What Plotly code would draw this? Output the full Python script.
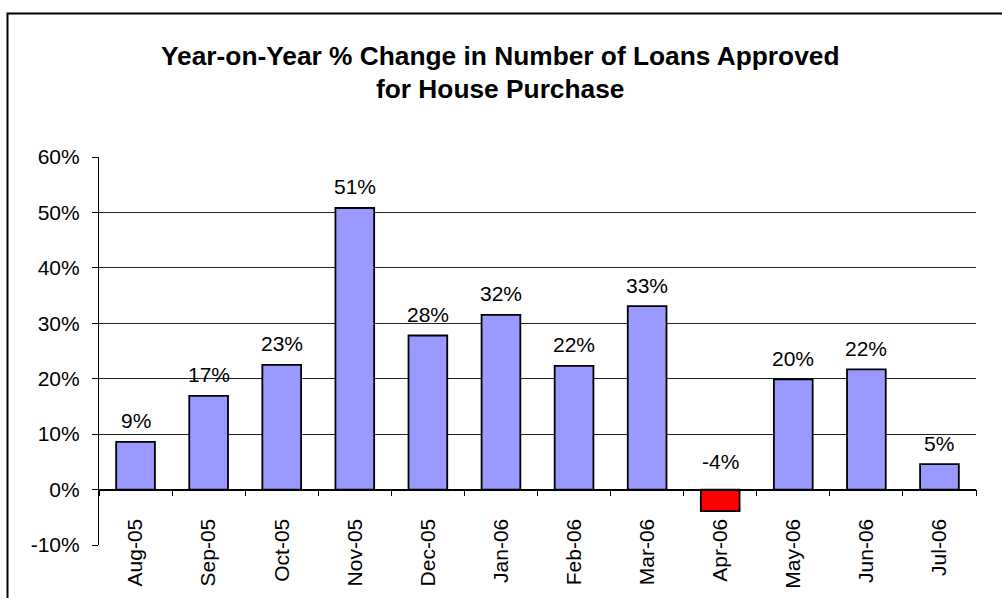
import plotly.graph_objects as go

months = ["Aug-05", "Sep-05", "Oct-05", "Nov-05", "Dec-05", "Jan-06",
          "Feb-06", "Mar-06", "Apr-06", "May-06", "Jun-06", "Jul-06"]
pct_change = [8.6, 16.9, 22.5, 50.8, 27.8, 31.5, 22.3, 33.1, -3.9, 19.9, 21.7, 4.6]
value_labels = ["9%", "17%", "23%", "51%", "28%", "32%", "22%", "33%", "-4%", "20%", "22%", "5%"]
y_ticks = [-10, 0, 10, 20, 30, 40, 50, 60]
y_tick_text = ["-10%", "0%", "10%", "20%", "30%", "40%", "50%", "60%"]

W, H = 1002, 598
ML, MR, MT, MB = 99, 26, 157, 53
PW, PH = W - ML - MR, H - MT - MB

FONT = "Liberation Sans, Arial, sans-serif"
colors = ["#FF0000" if v < 0 else "#9999FF" for v in pct_change]

fig = go.Figure()
fig.add_trace(go.Bar(
    x=months, y=pct_change, width=0.53,
    marker=dict(color=colors, line=dict(color="#000000", width=1.8)),
    hoverinfo="skip",
))

for m, v, lab in zip(months, pct_change, value_labels):
    fig.add_annotation(x=m, y=max(v, 0), text=lab, showarrow=False,
                       xref="x", yref="y", yanchor="middle",
                       yshift=21 if v >= 0 else 28,
                       font=dict(family=FONT, size=21, color="#000000"))

def px2paper_x(px):
    return (px - ML) / PW

def py2paper_y(py):
    return (H - MB - py) / PH

# chart title (two lines)
fig.add_annotation(text="<b>Year-on-Year % Change in Number of Loans Approved</b>",
                   xref="paper", yref="paper", x=px2paper_x(500), y=py2paper_y(56),
                   xanchor="center", yanchor="middle", showarrow=False,
                   font=dict(family=FONT, size=26.3, color="#000000"))
fig.add_annotation(text="<b>for House Purchase</b>",
                   xref="paper", yref="paper", x=px2paper_x(500), y=py2paper_y(89.5),
                   xanchor="center", yanchor="middle", showarrow=False,
                   font=dict(family=FONT, size=26.3, color="#000000"))

# outer chart-area border
fig.add_shape(type="rect", xref="paper", yref="paper",
              x0=px2paper_x(7.5), x1=px2paper_x(1010),
              y0=py2paper_y(610), y1=py2paper_y(13.5),
              line=dict(color="#000000", width=2), layer="below")

fig.update_layout(
    width=W, height=H,
    margin=dict(l=ML, r=MR, t=MT, b=MB, autoexpand=False),
    paper_bgcolor="white", plot_bgcolor="white",
    showlegend=False,
    bargap=0.47,
    xaxis=dict(
        type="category",
        anchor="free", position=10 / 70,
        automargin=False,
        showline=True, linecolor="#000000", linewidth=1.5,
        ticks="outside", ticklen=6, tickcolor="#000000", tickwidth=1,
        tickson="boundaries",
        tickangle=-90,
        ticklabelstandoff=20,
        tickfont=dict(family=FONT, size=21, color="#000000"),
        showgrid=False,
    ),
    yaxis=dict(
        range=[-10, 60],
        automargin=False,
        tickvals=y_ticks, ticktext=y_tick_text,
        showline=True, linecolor="#000000", linewidth=1.2,
        ticks="outside", ticklen=6, tickcolor="#000000",
        ticklabelstandoff=8,
        showgrid=True, gridcolor="#222222", gridwidth=1,
        zeroline=True, zerolinecolor="#000000", zerolinewidth=1.5,
        tickfont=dict(family=FONT, size=21, color="#000000"),
    ),
)

fig.write_html("out.html")
